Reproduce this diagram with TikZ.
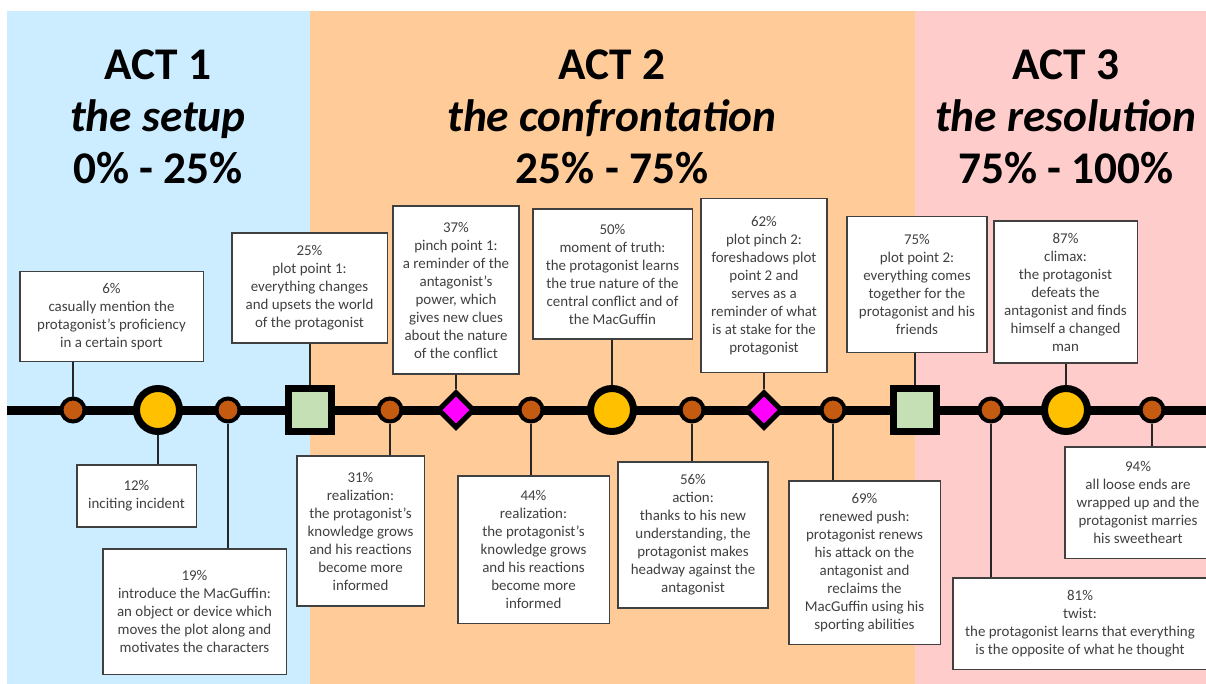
\documentclass[tikz,border=0pt]{standalone}
\usepackage{fontspec}
\setmainfont{Carlito}
\usetikzlibrary{shapes.geometric}
\definecolor{actone}{HTML}{CCECFF}
\definecolor{acttwo}{HTML}{FFCC99}
\definecolor{actthree}{HTML}{FFCCCC}
\definecolor{rust}{HTML}{C55A11}
\definecolor{gold}{HTML}{FFC000}
\definecolor{sage}{HTML}{C5E0B4}
\definecolor{pinchcol}{HTML}{FF00FF}
\definecolor{inkgray}{HTML}{404040}

\tikzset{
  dot/.style={circle,draw=black,fill=rust,line width=3pt,minimum size=17.25pt,inner sep=0pt},
  bigdot/.style={circle,draw=black,fill=gold,line width=5.25pt,minimum size=32.25pt,inner sep=0pt},
  plotpt/.style={rectangle,draw=black,fill=sage,line width=4.9pt,minimum size=32.6pt,inner sep=0pt},
  pinch/.style={diamond,draw=black,fill=pinchcol,line width=3.8pt,minimum size=27.5pt,inner sep=0pt},
  note/.style={draw=inkgray,fill=white,line width=0.8pt,align=center,text=inkgray,inner sep=2pt,
    font=\fontsize{11.2}{13.5}\selectfont},
  stem/.style={draw=black!85,line width=0.9pt},
  title/.style={align=center,font=\fontsize{34}{39}\selectfont\bfseries}
}

\begin{document}
\begin{tikzpicture}[x=0.75pt,y=-0.75pt]
  \useasboundingbox (0,0) rectangle (1206,684);

  % the three acts
  \fill[actone] (7,11) rectangle (310,684);
  \fill[acttwo] (310,11) rectangle (915,684);
  \fill[actthree] (915,11) rectangle (1206,684);

  \node[title] (act1) at (158,117) {ACT 1\\\textit{the setup}\\0\% - 25\%};
  \node[title] (act2) at (612,117) {ACT 2\\\textit{the confrontation}\\25\% - 75\%};
  \node[title] (act3) at (1066,117) {ACT 3\\\textit{the resolution}\\75\% - 100\%};

  % the timeline
  \coordinate (start) at (7,410);
  \coordinate (end) at (1206,410);
  \draw[line width=6.75pt] (start) -- (end);

  % markers
  \node[dot] (m6) at (73,410) {};
  \node[bigdot] (m12) at (158,410) {};
  \node[dot] (m19) at (228,410) {};
  \node[plotpt] (m25) at (310,410) {};
  \node[dot] (m31) at (390,410) {};
  \node[pinch] (m37) at (456,410) {};
  \node[dot] (m44) at (531,410) {};
  \node[bigdot] (m50) at (612,410) {};
  \node[dot] (m56) at (692,410) {};
  \node[pinch] (m62) at (764,410) {};
  \node[dot] (m69) at (833,410) {};
  \node[plotpt] (m75) at (915,410) {};
  \node[dot] (m81) at (991,410) {};
  \node[bigdot] (m87) at (1066,410) {};
  \node[dot] (m94) at (1152,410) {};

  % boxes above the line
  \node[note,minimum width=137.3pt,minimum height=66.8pt] (b6) at (111.5,316.5)
    {6\%\\casually mention the\\protagonist’s proficiency\\in a certain sport};
  \node[note,minimum width=116.3pt,minimum height=82.5pt] (b25) at (309.5,288)
    {25\%\\plot point 1:\\everything changes\\and upsets the world\\of the protagonist};
  \node[note,minimum width=94.5pt,minimum height=126pt] (b37) at (456,290)
    {37\%\\pinch point 1:\\a reminder of the\\antagonist’s\\power, which\\gives new clues\\about the nature\\of the conflict};
  \node[note,minimum width=119.3pt,minimum height=97.5pt] (b50) at (612.5,274)
    {50\%\\moment of truth:\\the protagonist learns\\the true nature of the\\central conflict and of\\the MacGuffin};
  \node[note,minimum width=94.5pt,minimum height=129.8pt] (b62) at (764,285.5)
    {62\%\\plot pinch 2:\\foreshadows plot\\point 2 and\\serves as a\\reminder of what\\is at stake for the\\protagonist};
  \node[note,minimum width=105pt,minimum height=101.3pt] (b75) at (917,284.5)
    {75\%\\plot point 2:\\everything comes\\together for the\\protagonist and his\\friends};
  \node[note,minimum width=107.3pt,minimum height=106.5pt] (b87) at (1065.5,292)
    {87\%\\climax:\\the protagonist\\defeats the\\antagonist and finds\\himself a changed\\man};

  % boxes below the line
  \node[note,minimum width=89.3pt,minimum height=46.5pt] (b12) at (136.5,496)
    {12\%\\inciting incident};
  \node[note,minimum width=137.3pt,minimum height=93.8pt] (b19) at (194.5,611.5)
    {19\%\\introduce the MacGuffin:\\an object or device which\\moves the plot along and\\motivates the characters};
  \node[note,minimum width=95.3pt,minimum height=112.5pt] (b31) at (360.5,531)
    {31\%\\realization:\\the protagonist’s\\knowledge grows\\and his reactions\\become more\\informed};
  \node[note,minimum width=113.3pt,minimum height=110.3pt] (b44) at (533.5,549.5)
    {44\%\\realization:\\the protagonist’s\\knowledge grows\\and his reactions\\become more\\informed};
  \node[note,minimum width=112.5pt,minimum height=109.5pt] (b56) at (693,535)
    {56\%\\action:\\thanks to his new\\understanding, the\\protagonist makes\\headway against the\\antagonist};
  \node[note,minimum width=113.3pt,minimum height=122.3pt] (b69) at (864.5,562.5)
    {69\%\\renewed push:\\protagonist renews\\his attack on the\\antagonist and\\reclaims the\\MacGuffin using his\\sporting abilities};
  \node[note,minimum width=190.5pt,minimum height=68.3pt] (b81) at (1080,623.5)
    {81\%\\twist:\\the protagonist learns that everything\\is the opposite of what he thought};
  \node[note,minimum width=109.5pt,minimum height=83.3pt] (b94) at (1138,502.5)
    {94\%\\all loose ends are\\wrapped up and the\\protagonist marries\\his sweetheart};

  % stems
  \draw[stem] (m6.north) -- (m6.north |- b6.south);
  \draw[stem] (m25.north) -- (m25.north |- b25.south);
  \draw[stem] (m37.north) -- (m37.north |- b37.south);
  \draw[stem] (m50.north) -- (m50.north |- b50.south);
  \draw[stem] (m62.north) -- (m62.north |- b62.south);
  \draw[stem] (m75.north) -- (m75.north |- b75.south);
  \draw[stem] (m87.north) -- (m87.north |- b87.south);
  \draw[stem] (m12.south) -- (m12.south |- b12.north);
  \draw[stem] (m19.south) -- (m19.south |- b19.north);
  \draw[stem] (m31.south) -- (m31.south |- b31.north);
  \draw[stem] (m44.south) -- (m44.south |- b44.north);
  \draw[stem] (m56.south) -- (m56.south |- b56.north);
  \draw[stem] (m69.south) -- (m69.south |- b69.north);
  \draw[stem] (m81.south) -- (m81.south |- b81.north);
  \draw[stem] (m94.south) -- (m94.south |- b94.north);
\end{tikzpicture}
\end{document}
